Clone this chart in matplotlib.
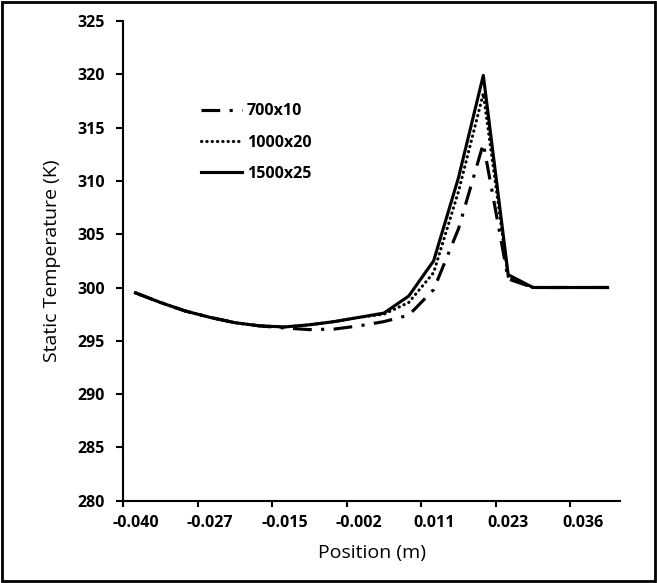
import matplotlib.pyplot as plt
from matplotlib.patches import Rectangle
import numpy as np

# positions along the channel (m), one per category of the line chart
positions = [-0.0400, -0.0358, -0.0316, -0.0274, -0.0232, -0.0189, -0.0147,
             -0.0105, -0.0063, -0.0021, 0.0021, 0.0063, 0.0105, 0.0147,
             0.0189, 0.0232, 0.0274, 0.0316, 0.0358, 0.0400]

# static temperature (K) for each mesh
t_700x10 = [299.5, 298.6, 297.8, 297.2, 296.7, 296.4, 296.2, 296.05, 296.1,
            296.4, 296.8, 297.4, 299.8, 305.5, 313.5, 300.8, 300.0, 300.0,
            300.0, 300.0]
t_1000x20 = [299.5, 298.6, 297.8, 297.2, 296.7, 296.4, 296.3, 296.5, 296.8,
             297.2, 297.5, 298.6, 301.4, 309.0, 318.2, 301.0, 300.0, 300.0,
             300.0, 300.0]
t_1500x25 = [299.5, 298.6, 297.8, 297.2, 296.7, 296.4, 296.3, 296.5, 296.8,
             297.2, 297.6, 299.2, 302.5, 310.3, 319.9, 301.2, 300.0, 300.0,
             300.0, 300.0]

yticks = [280, 285, 290, 295, 300, 305, 310, 315, 320, 325]

plt.rcParams['font.family'] = ['Open Sans', 'DejaVu Sans']

fig = plt.figure(figsize=(6.57, 5.83), dpi=100)
ax = fig.add_axes([123/657, 1 - 500.7/583, 497/657, 479.7/583])

cats = np.arange(len(positions))
ax.plot(cats, t_700x10, color='black', lw=2.25, dashes=(6, 3, 1, 3),
        label='700x10')
ax.plot(cats, t_1000x20, color='black', lw=2.25, linestyle=(0, (0.1, 1.6)),
        dash_capstyle='round', label='1000x20')
ax.plot(cats, t_1500x25, color='black', lw=2.25, label='1500x25')

ax.set_xlim(-0.5, len(positions) - 0.5)
ax.set_ylim(280, 325)

# tick marks between categories, labels on every third category
ax.set_xticks(np.arange(-0.5, len(positions) - 1, 3))
ax.set_xticklabels([])
ax.set_xticks(cats[::3], minor=True)
ax.set_xticklabels(['%.3f' % positions[i] for i in cats[::3]], minor=True,
                   fontweight='bold', fontsize=11.5)
ax.tick_params(axis='x', which='major', direction='out', length=4, width=1.5)
ax.tick_params(axis='x', which='minor', length=0, pad=10)

ax.set_yticks(yticks)
ax.set_yticklabels([str(v) for v in yticks], fontweight='bold', fontsize=11.5)
ax.tick_params(axis='y', direction='out', length=5, width=1.5, pad=8)

for s in ['top', 'right']:
    ax.spines[s].set_visible(False)
for s in ['left', 'bottom']:
    ax.spines[s].set_linewidth(1.5)

ax.set_xlabel('Position (m)', fontsize=14, labelpad=10)
ax.set_ylabel('Static Temperature (K)', fontsize=14, labelpad=12)

leg = ax.legend(loc='upper left', bbox_to_anchor=(0.14, 0.845), frameon=False,
                handlelength=2.6, handletextpad=0.3, labelspacing=0.95,
                borderpad=0, prop={'weight': 'bold', 'size': 11.5})

fig.patches.append(Rectangle((0.003, 0.003), 0.994, 0.994, fill=False,
                             edgecolor='black', lw=2,
                             transform=fig.transFigure))

fig.savefig('out.png', dpi=100)
